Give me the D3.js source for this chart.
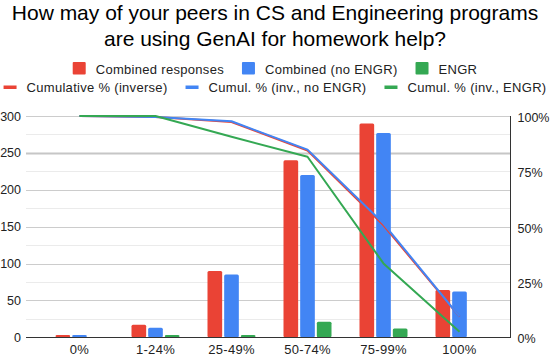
<!DOCTYPE html>
<html>
<head>
<meta charset="utf-8">
<script src="https://cdn.jsdelivr.net/npm/d3@7"></script>
<style>
  body { margin: 0; background: #fff; }
  svg { display: block; font-family: "Liberation Sans", Arial, sans-serif; }
</style>
</head>
<body>
<div id="chart"></div>
<script>
// values
var categories = ["0%", "1-24%", "25-49%", "50-74%", "75-99%", "100%"]
var combined = [3, 17, 90, 240, 290, 64]
var combinedNoEngr = [3, 13, 85, 220, 277, 62]
var engr = [0, 3, 3, 21, 12, 0]
// cumulative % (inverse), right axis
var cumul = [100, 99.6, 97.3, 84.4, 50.6, 9.3]
var cumulNoEngr = [100, 99.5, 97.6, 84.8, 51.4, 9.4]
var cumulEngr = [100, 100, 90.6, 81.6, 33.4, 2.5]
var leftTicks = [0, 50, 100, 150, 200, 250, 300]
var rightTicks = [0, 25, 50, 75, 100]

var barSeries = [
  { name: "Combined responses", values: combined, color: "#ea4335" },
  { name: "Combined (no ENGR)", values: combinedNoEngr, color: "#4285f4" },
  { name: "ENGR", values: engr, color: "#34a853" }
]
var lineSeries = [
  { name: "Cumulative % (inverse)", values: cumul, color: "#ea4335" },
  { name: "Cumul. % (inv., no ENGR)", values: cumulNoEngr, color: "#4285f4" },
  { name: "Cumul. % (inv., ENGR)", values: cumulEngr, color: "#34a853" }
]

var width = 550
var height = 356
var plotLeft = 26, plotRight = 510.5, plotTop = 116, plotBottom = 337.3

var svg = d3.select("#chart").append("svg")
            .attr("width", width)
            .attr("height", height)

// title
var title = svg.append("text")
               .attr("text-anchor", "middle")
               .attr("font-size", 21)
               .attr("fill", "#000")
title.append("tspan").attr("x", 275).attr("y", 19.5)
     .text("How may of your peers in CS and Engineering programs")
title.append("tspan").attr("x", 275).attr("y", 45.5)
     .text("are using GenAI for homework help?")

var y = d3.scaleLinear().domain([0, 300]).range([plotBottom, plotTop])
var yRight = d3.scaleLinear().domain([0, 100]).range([plotBottom, plotTop])

var x0 = d3.scaleBand().domain(categories).range([41.5, 497.5])
var x1 = d3.scaleBand().domain(d3.range(barSeries.length))
           .range([14, 62]).paddingInner(0.12)

// gridlines
var minor = d3.range(25, 300, 50)
svg.append("g").selectAll("line")
   .data(minor).enter().append("line")
   .attr("x1", plotLeft).attr("x2", plotRight)
   .attr("y1", function(d) { return Math.round(y(d)) + 0.5 })
   .attr("y2", function(d) { return Math.round(y(d)) + 0.5 })
   .attr("stroke", "#ebebeb")

svg.append("g").selectAll("line")
   .data(leftTicks.filter(function(d) { return d > 0 })).enter().append("line")
   .attr("x1", plotLeft).attr("x2", plotRight)
   .attr("y1", function(d) { return Math.round(y(d)) + 0.5 })
   .attr("y2", function(d) { return Math.round(y(d)) + 0.5 })
   .attr("stroke", function(d) { return d == 250 ? "#c6c6c6" : "#cccccc" })
   .attr("stroke-width", function(d) { return d == 250 ? 2 : 1 })

// left axis labels
svg.append("g").selectAll("text")
   .data(leftTicks).enter().append("text")
   .attr("x", 21)
   .attr("y", function(d) { return y(d) + 4.5 })
   .attr("text-anchor", "end")
   .attr("font-size", 12.5)
   .attr("fill", "#222")
   .text(function(d) { return d })

// right axis labels
svg.append("g").selectAll("text")
   .data(rightTicks).enter().append("text")
   .attr("x", 517.5)
   .attr("y", function(d) { return yRight(d) + 6 })
   .attr("font-size", 12.5)
   .attr("fill", "#222")
   .text(function(d) { return d + "%" })

// bars
var groups = svg.append("g").selectAll("g")
                .data(categories).enter().append("g")
                .attr("transform", function(d) { return "translate(" + x0(d) + ",0)" })

groups.selectAll("rect")
      .data(function(c, i) {
        return barSeries.map(function(s, j) { return { j: j, v: s.values[i], color: s.color } })
      })
      .enter().append("rect")
      .attr("x", function(d) { return x1(d.j) })
      .attr("width", x1.bandwidth())
      .attr("y", function(d) { return y(d.v) })
      .attr("height", function(d) { return y(0) - y(d.v) })
      .attr("rx", 1.5)
      .attr("fill", function(d) { return d.color })

// baseline and right axis
svg.append("line")
   .attr("x1", plotLeft).attr("x2", plotRight)
   .attr("y1", 337.5).attr("y2", 337.5)
   .attr("stroke", "#333")
svg.append("line")
   .attr("x1", plotRight).attr("x2", plotRight)
   .attr("y1", plotTop).attr("y2", 338)
   .attr("stroke", "#333")

// cumulative lines
var line = d3.line()
             .x(function(d, i) { return x0(categories[i]) + x0.bandwidth() / 2 })
             .y(function(d) { return yRight(d) })

svg.append("g").selectAll("path")
   .data(lineSeries).enter().append("path")
   .attr("d", function(d) { return line(d.values) })
   .attr("fill", "none")
   .attr("stroke", function(d) { return d.color })
   .attr("stroke-width", 2)
   .attr("stroke-linejoin", "round")

// x labels
svg.append("g").selectAll("text")
   .data(categories).enter().append("text")
   .attr("x", function(d) { return x0(d) + x0.bandwidth() / 2 })
   .attr("y", 354)
   .attr("text-anchor", "middle")
   .attr("font-size", 13)
   .attr("letter-spacing", 0.3)
   .attr("fill", "#222")
   .text(function(d) { return d })

// legend, two centred rows
function legendRow(items, yText, isLine) {
  var row = svg.append("g")
  var pos = 0
  items.forEach(function(s) {
    var g = row.append("g").attr("transform", "translate(" + pos + ",0)")
    if (isLine) {
      g.append("rect").attr("x", 0).attr("y", yText - 6.5)
       .attr("width", 13).attr("height", 3.5).attr("fill", s.color)
    } else {
      g.append("rect").attr("x", 0).attr("y", yText - 11.5)
       .attr("width", 13).attr("height", 12.5).attr("rx", 1).attr("fill", s.color)
    }
    var t = g.append("text").attr("x", 23).attr("y", yText)
             .attr("font-size", 13).attr("letter-spacing", 0.3)
             .attr("fill", "#222").text(s.name)
    pos += 23 + t.node().getComputedTextLength() + 18
  })
  var total = pos - 18
  row.attr("transform", "translate(" + (275 - total / 2) + ",0)")
}
legendRow(barSeries, 73.5, false)
legendRow(lineSeries, 92, true)
</script>
</body>
</html>
